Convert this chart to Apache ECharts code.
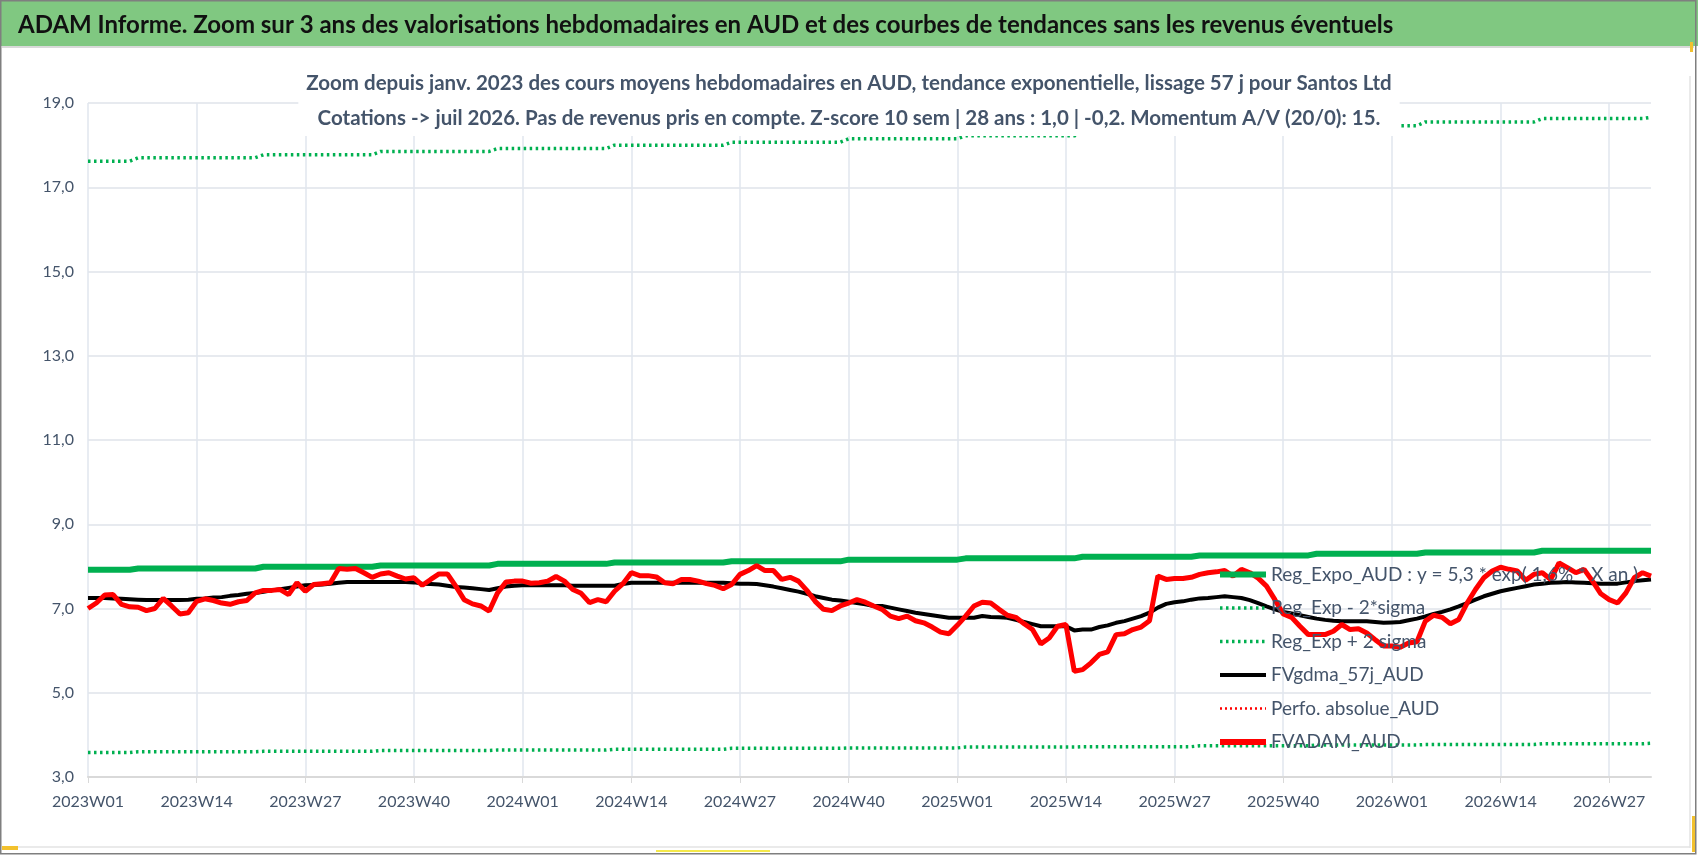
<!DOCTYPE html>
<html>
<head>
<meta charset="utf-8">
<script src="https://cdn.jsdelivr.net/npm/echarts@6/dist/echarts.min.js"></script>
<style>
  html, body { margin: 0; padding: 0; background: #fff; }
  #main { width: 1698px; height: 856px; }
</style>
</head>
<body>
<div id="main"></div>
<script>
var FONT = "Lato, 'Open Sans', sans-serif";

// semaines 2023W01 -> 2026W32
var years = [2023, 2024, 2025, 2026];
var weeksPerYear = [52, 52, 52, 32];

// FVADAM_AUD (cours moyens hebdo)
var fvadam = [
  7.00,7.13,7.32,7.33,7.10,7.04,7.03,6.95,7.00,7.24,
  7.06,6.87,6.90,7.17,7.23,7.19,7.13,7.10,7.16,7.19,
  7.37,7.43,7.43,7.45,7.33,7.61,7.41,7.57,7.59,7.61,
  7.95,7.93,7.95,7.85,7.74,7.82,7.85,7.77,7.70,7.73,
  7.55,7.69,7.82,7.82,7.53,7.21,7.11,7.06,6.94,7.37,
  7.63,7.65,7.65,7.60,7.61,7.65,7.76,7.65,7.45,7.36,
  7.14,7.21,7.16,7.41,7.59,7.85,7.78,7.78,7.75,7.61,
  7.59,7.69,7.69,7.65,7.59,7.55,7.47,7.57,7.81,7.90,
  8.02,7.90,7.90,7.69,7.74,7.65,7.43,7.17,6.98,6.95,
  7.06,7.13,7.21,7.15,7.06,6.98,6.82,6.76,6.82,6.71,
  6.66,6.56,6.44,6.40,6.60,6.82,7.06,7.15,7.13,6.98,
  6.84,6.79,6.64,6.50,6.16,6.30,6.58,6.62,5.51,5.55,
  5.71,5.91,5.97,6.38,6.40,6.50,6.56,6.71,7.77,7.69,
  7.71,7.71,7.74,7.81,7.85,7.87,7.90,7.77,7.93,7.85,
  7.72,7.53,7.21,6.87,6.79,6.58,6.38,6.38,6.38,6.46,
  6.62,6.50,6.52,6.42,6.26,6.11,6.11,6.08,6.18,6.21,
  6.70,6.84,6.79,6.64,6.74,7.13,7.45,7.73,7.89,7.98,
  7.93,7.89,7.67,7.81,7.85,7.69,8.08,7.97,7.85,7.93,
  7.65,7.35,7.21,7.13,7.37,7.73,7.85,7.77
];

// FVgdma_57j_AUD (lissage 57 j)
var fvgdma = [
  7.25,7.25,7.25,7.24,7.23,7.22,7.21,7.20,7.20,7.20,
  7.20,7.20,7.21,7.23,7.24,7.26,7.27,7.30,7.32,7.35,
  7.37,7.40,7.43,7.46,7.49,7.52,7.55,7.56,7.57,7.59,
  7.61,7.63,7.63,7.63,7.63,7.63,7.63,7.63,7.63,7.62,
  7.59,7.58,7.57,7.54,7.51,7.50,7.48,7.46,7.44,7.48,
  7.52,7.54,7.55,7.55,7.55,7.55,7.55,7.55,7.54,7.54,
  7.54,7.54,7.54,7.54,7.58,7.61,7.61,7.61,7.61,7.61,
  7.61,7.61,7.61,7.61,7.61,7.61,7.61,7.60,7.59,7.59,
  7.58,7.55,7.52,7.48,7.44,7.40,7.35,7.29,7.25,7.21,
  7.19,7.16,7.13,7.10,7.06,7.06,7.02,6.98,6.94,6.90,
  6.87,6.84,6.81,6.78,6.78,6.78,6.78,6.82,6.80,6.79,
  6.78,6.73,6.68,6.63,6.58,6.58,6.58,6.58,6.48,6.50,
  6.50,6.56,6.60,6.66,6.70,6.76,6.82,6.90,7.02,7.11,
  7.15,7.17,7.21,7.24,7.25,7.27,7.29,7.27,7.25,7.20,
  7.13,7.05,6.98,6.92,6.88,6.84,6.80,6.76,6.73,6.71,
  6.70,6.70,6.70,6.70,6.68,6.66,6.67,6.68,6.72,6.76,
  6.81,6.87,6.92,6.98,7.05,7.13,7.21,7.29,7.35,7.41,
  7.45,7.49,7.53,7.57,7.59,7.61,7.62,7.63,7.62,7.61,
  7.60,7.59,7.59,7.59,7.62,7.65,7.67,7.69
];

// Reg_Expo_AUD
var regExpo = [
  7.92,7.92,7.92,7.92,7.92,7.92,7.95,7.95,7.95,7.95,
  7.95,7.95,7.95,7.95,7.95,7.95,7.95,7.95,7.95,7.95,
  7.95,7.99,7.99,7.99,7.99,7.99,7.99,7.99,7.99,7.99,
  7.99,7.99,7.99,7.99,7.99,8.02,8.02,8.02,8.02,8.02,
  8.02,8.02,8.02,8.02,8.02,8.02,8.02,8.02,8.02,8.06,
  8.06,8.06,8.06,8.06,8.06,8.06,8.06,8.06,8.06,8.06,
  8.06,8.06,8.06,8.09,8.09,8.09,8.09,8.09,8.09,8.09,
  8.09,8.09,8.09,8.09,8.09,8.09,8.09,8.12,8.12,8.12,
  8.12,8.12,8.12,8.12,8.12,8.12,8.12,8.12,8.12,8.12,
  8.12,8.16,8.16,8.16,8.16,8.16,8.16,8.16,8.16,8.16,
  8.16,8.16,8.16,8.16,8.16,8.19,8.19,8.19,8.19,8.19,
  8.19,8.19,8.19,8.19,8.19,8.19,8.19,8.19,8.19,8.23,
  8.23,8.23,8.23,8.23,8.23,8.23,8.23,8.23,8.23,8.23,
  8.23,8.23,8.23,8.26,8.26,8.26,8.26,8.26,8.26,8.26,
  8.26,8.26,8.26,8.26,8.26,8.26,8.26,8.30,8.30,8.30,
  8.30,8.30,8.30,8.30,8.30,8.30,8.30,8.30,8.30,8.30,
  8.33,8.33,8.33,8.33,8.33,8.33,8.33,8.33,8.33,8.33,
  8.33,8.33,8.33,8.33,8.37,8.37,8.37,8.37,8.37,8.37,
  8.37,8.37,8.37,8.37,8.37,8.37,8.37,8.37
];

// Reg_Exp - 2*sigma
var regMoins = [
  3.58,3.58,3.58,3.58,3.58,3.58,3.60,3.60,3.60,3.60,
  3.60,3.60,3.60,3.60,3.60,3.60,3.60,3.60,3.60,3.60,
  3.60,3.61,3.61,3.61,3.61,3.61,3.61,3.61,3.61,3.61,
  3.61,3.61,3.61,3.61,3.61,3.63,3.63,3.63,3.63,3.63,
  3.63,3.63,3.63,3.63,3.63,3.63,3.63,3.63,3.63,3.64,
  3.64,3.64,3.64,3.64,3.64,3.64,3.64,3.64,3.64,3.64,
  3.64,3.64,3.64,3.66,3.66,3.66,3.66,3.66,3.66,3.66,
  3.66,3.66,3.66,3.66,3.66,3.66,3.66,3.68,3.68,3.68,
  3.68,3.68,3.68,3.68,3.68,3.68,3.68,3.68,3.68,3.68,
  3.68,3.69,3.69,3.69,3.69,3.69,3.69,3.69,3.69,3.69,
  3.69,3.69,3.69,3.69,3.69,3.71,3.71,3.71,3.71,3.71,
  3.71,3.71,3.71,3.71,3.71,3.71,3.71,3.71,3.71,3.72,
  3.72,3.72,3.72,3.72,3.72,3.72,3.72,3.72,3.72,3.72,
  3.72,3.72,3.72,3.74,3.74,3.74,3.74,3.74,3.74,3.74,
  3.74,3.74,3.74,3.74,3.74,3.74,3.74,3.76,3.76,3.76,
  3.76,3.76,3.76,3.76,3.76,3.76,3.76,3.76,3.76,3.76,
  3.77,3.77,3.77,3.77,3.77,3.77,3.77,3.77,3.77,3.77,
  3.77,3.77,3.77,3.77,3.79,3.79,3.79,3.79,3.79,3.79,
  3.79,3.79,3.79,3.79,3.79,3.79,3.79,3.80
];

// Reg_Exp + 2 sigma
var regPlus = [
  17.62,17.62,17.62,17.62,17.62,17.62,17.70,17.70,17.70,17.70,
  17.70,17.70,17.70,17.70,17.70,17.70,17.70,17.70,17.70,17.70,
  17.70,17.77,17.77,17.77,17.77,17.77,17.77,17.77,17.77,17.77,
  17.77,17.77,17.77,17.77,17.77,17.85,17.85,17.85,17.85,17.85,
  17.85,17.85,17.85,17.85,17.85,17.85,17.85,17.85,17.85,17.92,
  17.92,17.92,17.92,17.92,17.92,17.92,17.92,17.92,17.92,17.92,
  17.92,17.92,17.92,18.00,18.00,18.00,18.00,18.00,18.00,18.00,
  18.00,18.00,18.00,18.00,18.00,18.00,18.00,18.07,18.07,18.07,
  18.07,18.07,18.07,18.07,18.07,18.07,18.07,18.07,18.07,18.07,
  18.07,18.15,18.15,18.15,18.15,18.15,18.15,18.15,18.15,18.15,
  18.15,18.15,18.15,18.15,18.15,18.22,18.22,18.22,18.22,18.22,
  18.22,18.22,18.22,18.22,18.22,18.22,18.22,18.22,18.22,18.30,
  18.30,18.30,18.30,18.30,18.30,18.30,18.30,18.30,18.30,18.30,
  18.30,18.30,18.30,18.38,18.38,18.38,18.38,18.38,18.38,18.38,
  18.38,18.38,18.38,18.38,18.38,18.38,18.38,18.46,18.46,18.46,
  18.46,18.46,18.46,18.46,18.46,18.46,18.46,18.46,18.46,18.46,
  18.55,18.55,18.55,18.55,18.55,18.55,18.55,18.55,18.55,18.55,
  18.55,18.55,18.55,18.55,18.63,18.63,18.63,18.63,18.63,18.63,
  18.63,18.63,18.63,18.63,18.63,18.63,18.63,18.66
];

// Perfo. absolue_AUD : hors echelle, rien d'affiche
var perfoAbs = [];

var semaines = [];
for (var i = 0; i < years.length; i++) {
  for (var w = 1; w <= weeksPerYear[i]; w++) {
    semaines.push(years[i] + 'W' + (w < 10 ? '0' + w : w));
  }
}

var noms = [
  'Reg_Expo_AUD : y = 5,3 * exp( 1,6% * X an )',
  'Reg_Exp - 2*sigma',
  'Reg_Exp + 2 sigma',
  'FVgdma_57j_AUD',
  'Perfo. absolue_AUD',
  'FVADAM_AUD'
];

var chart = echarts.init(document.getElementById('main'));

var option = {
  backgroundColor: '#fff',
  animation: false,
  textStyle: { fontFamily: FONT },
  graphic: [
    { type: 'rect', z: 0, shape: { x: 0, y: 0, width: 1698, height: 46 }, style: { fill: '#80C881' } },
    { type: 'line', z: 1, shape: { x1: 2, y1: 47, x2: 1694, y2: 47 }, style: { stroke: '#D9D9D9', lineWidth: 2 } },
    { type: 'rect', z: 1, shape: { x: 0.75, y: 0.75, width: 1695, height: 853 }, style: { fill: 'none', stroke: '#7F7F7F', lineWidth: 1.5 } },
    { type: 'line', z: 1, shape: { x1: 1690, y1: 76, x2: 1690, y2: 848 }, style: { stroke: '#E3E3E3', lineWidth: 1.5 } },
    { type: 'line', z: 1, shape: { x1: 2, y1: 847, x2: 1690, y2: 847 }, style: { stroke: '#E3E3E3', lineWidth: 1.5 } },
    { type: 'rect', z: 1, shape: { x: 2, y: 846, width: 16, height: 4 }, style: { fill: '#F2C12E' } },
    { type: 'rect', z: 1, shape: { x: 1690, y: 42, width: 3, height: 10 }, style: { fill: '#F2C12E' } },
    { type: 'rect', z: 1, shape: { x: 1692, y: 816, width: 3, height: 36 }, style: { fill: '#F2C12E' } },
    { type: 'rect', z: 1, shape: { x: 656, y: 850, width: 114, height: 2 }, style: { fill: '#F5E94A' } }
  ],
  title: [
    {
      text: 'ADAM Informe. Zoom sur 3 ans des valorisations hebdomadaires en AUD et des courbes de tendances sans les revenus éventuels',
      left: 13, top: 8,
      textStyle: { fontFamily: FONT, fontSize: 24, fontWeight: 'bold', color: '#111' }
    },
    {
      text: 'Zoom depuis janv. 2023 des cours moyens hebdomadaires en AUD, tendance exponentielle, lissage 57 j pour Santos Ltd\nCotations -> juil 2026. Pas de revenus pris en compte. Z-score 10 sem | 28 ans : 1,0 | -0,2. Momentum A/V (20/0): 15.',
      left: 'center', top: 64,
      padding: [2, 8, 0, 8],
      backgroundColor: '#fff',
      textStyle: { fontFamily: FONT, fontSize: 20.5, fontWeight: 'bold', color: '#44546A', lineHeight: 35, align: 'center' }
    }
  ],
  legend: {
    orient: 'vertical',
    left: 1212, top: 559,
    itemWidth: 46, itemHeight: 12, itemGap: 12.5,
    selectedMode: false,
    itemStyle: { opacity: 0 },
    textStyle: { fontFamily: FONT, fontSize: 19, color: '#44546A', lineHeight: 21 },
    data: [
      { name: noms[0], lineStyle: { width: 6 } },
      { name: noms[1], lineStyle: { width: 3.5 } },
      { name: noms[2], lineStyle: { width: 3.5 } },
      { name: noms[3], lineStyle: { width: 4 } },
      { name: noms[4], lineStyle: { width: 2.5 } },
      { name: noms[5], lineStyle: { width: 6 } }
    ]
  },
  grid: { left: 88, right: 47, top: 103, bottom: 79 },
  xAxis: {
    type: 'category',
    data: semaines,
    boundaryGap: false,
    axisLine: { lineStyle: { color: '#D9D9D9', width: 2 } },
    axisTick: { show: true, interval: 12, length: 6, lineStyle: { color: '#D9D9D9' } },
    axisLabel: { interval: 12, margin: 17, fontFamily: FONT, fontSize: 16, color: '#44546A' },
    splitLine: { show: true, interval: 12, lineStyle: { color: '#E1E6EE', width: 1.5 } }
  },
  yAxis: {
    type: 'value',
    min: 3, max: 19, interval: 2,
    axisLine: { show: false },
    axisTick: { show: false },
    axisLabel: {
      margin: 14, fontFamily: FONT, fontSize: 16, color: '#44546A',
      formatter: function (v) { return v.toFixed(1).replace('.', ','); }
    },
    splitLine: { lineStyle: { color: '#DFE3EA', width: 1.5 } }
  },
  series: [
    { name: noms[0], type: 'line', data: regExpo, symbol: 'none', lineStyle: { color: '#00B050', width: 6 }, itemStyle: { color: '#00B050' } },
    { name: noms[1], type: 'line', data: regMoins, symbol: 'none', lineStyle: { color: '#00B050', width: 3.5, type: [2.5, 3.5] }, itemStyle: { color: '#00B050' } },
    { name: noms[2], type: 'line', data: regPlus, symbol: 'none', lineStyle: { color: '#00B050', width: 3.5, type: [2.5, 3.5] }, itemStyle: { color: '#00B050' } },
    { name: noms[3], type: 'line', data: fvgdma, symbol: 'none', lineStyle: { color: '#000', width: 4 }, itemStyle: { color: '#000' } },
    { name: noms[4], type: 'line', data: perfoAbs, symbol: 'none', lineStyle: { color: '#FF0000', width: 2.5, type: [2, 3] }, itemStyle: { color: '#FF0000' } },
    { name: noms[5], type: 'line', data: fvadam, symbol: 'none', lineStyle: { color: '#FF0000', width: 5 }, itemStyle: { color: '#FF0000' } }
  ]
};

chart.setOption(option);
</script>
</body>
</html>
